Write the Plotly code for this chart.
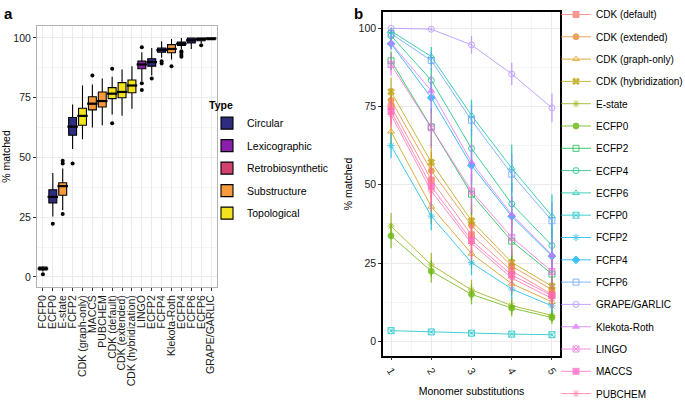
import math
import plotly.graph_objects as go

# ---------------- Panel a data ----------------
categories = ["FCFP0", "ECFP0", "E-state", "FCFP2", "CDK (graph-only)", "MACCS", "PUBCHEM",
              "CDK (default)", "CDK (extended)", "CDK (hybridization)", "LINGO", "ECFP2", "FCFP4",
              "Klekota-Roth", "ECFP4", "FCFP6", "ECFP6", "GRAPE/GARLIC"]
cat_types = ["Circular", "Circular", "Substructure", "Circular", "Topological", "Substructure",
             "Substructure", "Topological", "Topological", "Topological", "Lexicographic", "Circular",
             "Circular", "Substructure", "Circular", "Circular", "Circular", "Retrobiosynthetic"]
box_lower = [2.3, 25.3, 28.0, 53.5, 57.6, 62.5, 63.5, 68.0, 67.4, 70.4, 82.0, 84.3, 91.7, 91.0, 95.4, 95.4, 97.9, 99.0]
box_q1 = [2.9, 31.0, 34.2, 59.3, 63.5, 69.9, 71.1, 74.6, 75.0, 77.1, 87.1, 88.2, 94.0, 93.8, 96.9, 97.9, 98.8, 99.3]
box_median = [3.5, 33.5, 38.0, 62.9, 67.4, 72.5, 73.6, 76.7, 77.4, 80.1, 88.9, 89.9, 94.9, 95.4, 97.6, 99.0, 99.6, 99.8]
box_q3 = [4.1, 36.5, 39.4, 66.7, 70.6, 75.4, 77.4, 79.2, 81.3, 82.4, 90.3, 91.3, 95.8, 97.2, 98.3, 100.0, 100.0, 100.0]
box_upper = [4.5, 43.5, 45.4, 72.2, 80.1, 80.5, 83.0, 83.8, 86.8, 88.2, 94.0, 95.8, 98.6, 99.6, 100.0, 100.0, 100.0, 100.0]
outlier_cats = ["FCFP0", "ECFP0", "E-state", "E-state", "E-state", "FCFP2", "MACCS", "CDK (default)",
                "CDK (default)", "LINGO", "LINGO", "LINGO", "ECFP2", "FCFP4", "FCFP4", "Klekota-Roth",
                "ECFP4", "ECFP4", "ECFP4", "ECFP4", "ECFP6"]
outlier_vals = [1.1, 22.3, 48.6, 47.5, 26.3, 47.5, 84.3, 87.1, 64.3, 96.1, 81.0, 78.2, 83.0, 90.3, 89.3,
                88.2, 94.4, 93.8, 92.9, 92.1, 96.9]
type_names = ["Circular", "Lexicographic", "Retrobiosynthetic", "Substructure", "Topological"]
type_colors = ["#2E2C7E", "#8A1FAB", "#D3426E", "#F59B3C", "#F3E31E"]

# ---------------- Panel b data ----------------
substitutions = [1, 2, 3, 4, 5]
series_names = ["CDK (default)", "CDK (extended)", "CDK (graph-only)", "CDK (hybridization)", "E-state",
                "ECFP0", "ECFP2", "ECFP4", "ECFP6", "FCFP0", "FCFP2", "FCFP4", "FCFP6", "GRAPE/GARLIC",
                "Klekota-Roth", "LINGO", "MACCS", "PUBCHEM"]
cdk_default = [75.0, 51.5, 34.0, 22.5, 15.0]
cdk_extended = [77.0, 54.5, 37.0, 24.0, 16.5]
cdk_graph_only = [67.0, 43.0, 28.0, 18.4, 12.6]
cdk_hybridization = [79.7, 57.2, 38.5, 25.2, 17.6]
e_state = [36.8, 24.4, 16.4, 11.4, 8.3]
ecfp0 = [33.7, 22.4, 15.0, 10.6, 7.6]
ecfp2 = [89.6, 68.5, 47.0, 32.0, 21.5]
ecfp4 = [97.6, 83.4, 61.6, 43.9, 30.6]
ecfp6 = [99.1, 91.0, 72.2, 55.3, 40.0]
fcfp0 = [3.4, 3.0, 2.6, 2.3, 2.1]
fcfp2 = [62.5, 40.0, 25.1, 16.7, 11.3]
fcfp4 = [95.1, 77.8, 56.2, 39.9, 27.2]
fcfp6 = [98.3, 89.7, 70.6, 53.4, 38.5]
grape_garlic = [100.0, 99.7, 94.7, 85.4, 74.6]
klekota_roth = [95.3, 80.0, 57.2, 40.5, 27.6]
lingo = [88.4, 68.2, 48.0, 33.2, 22.3]
maccs = [73.5, 49.5, 32.2, 21.2, 14.6]
pubchem = [72.4, 48.0, 31.3, 20.2, 13.7]
series_values = [cdk_default, cdk_extended, cdk_graph_only, cdk_hybridization, e_state, ecfp0, ecfp2,
                 ecfp4, ecfp6, fcfp0, fcfp2, fcfp4, fcfp6, grape_garlic, klekota_roth, lingo, maccs, pubchem]
series_errors = [
    [4.0, 6.0, 5.5, 4.5, 3.5], [4.0, 6.0, 5.5, 4.5, 3.5], [4.0, 5.5, 4.5, 3.5, 2.8],
    [4.5, 6.0, 5.5, 4.5, 3.5], [4.2, 3.8, 3.3, 2.6, 2.1], [4.0, 3.6, 3.2, 2.6, 2.1],
    [3.0, 6.0, 6.5, 6.0, 5.0], [1.5, 4.0, 6.0, 7.0, 6.5], [1.0, 3.0, 5.0, 7.5, 7.0],
    [0.4, 0.3, 0.3, 0.3, 0.3], [4.0, 4.5, 4.0, 3.2, 2.6], [2.0, 5.0, 6.0, 6.5, 5.5],
    [1.2, 3.0, 5.0, 6.5, 6.0], [0.3, 0.5, 2.8, 3.6, 4.6], [2.0, 5.0, 6.0, 6.0, 5.0],
    [3.5, 6.5, 7.0, 6.0, 5.0], [4.0, 6.0, 5.5, 4.5, 3.5], [4.0, 6.5, 5.5, 4.5, 3.5]]
series_symbols = ["square", "circle", "triangle-up-open", "x", "asterisk-open", "circle", "square-open",
                  "circle-open", "triangle-up-open", "square-x-open", "asterisk-open", "diamond",
                  "square-open", "circle-open", "triangle-up", "square-x-open", "square", "asterisk-open"]


def hcl_hex(h, c=100.0, l=65.0):
    hr = math.radians(h)
    u, v = c * math.cos(hr), c * math.sin(hr)
    xn, yn, zn = 95.047, 100.0, 108.883
    un = 4 * xn / (xn + 15 * yn + 3 * zn)
    vn = 9 * yn / (xn + 15 * yn + 3 * zn)
    Y = yn * ((l + 16) / 116) ** 3
    up = u / (13 * l) + un
    vp = v / (13 * l) + vn
    X = 9.0 * Y * up / (4 * vp)
    Z = -X / 3 - 5 * Y + 3 * Y / vp
    X, Y, Z = X / 100, Y / 100, Z / 100
    r = 3.240479 * X - 1.537150 * Y - 0.498535 * Z
    g = -0.969256 * X + 1.875992 * Y + 0.041556 * Z
    b = 0.055648 * X - 0.204043 * Y + 1.057311 * Z

    def gam(t):
        t = 12.92 * t if t <= 0.0031308 else 1.055 * t ** (1 / 2.4) - 0.055
        return max(0, min(255, round(t * 255)))
    return "#%02X%02X%02X" % (gam(r), gam(g), gam(b))


series_colors = [hcl_hex(15 + 20 * i) for i in range(len(series_names))]

FONT = "Liberation Sans, Arial, sans-serif"
fig = go.Figure()

# Panel a boxes
for tname, tcol in zip(type_names, type_colors):
    idx = [i for i, t in enumerate(cat_types) if t == tname]
    fig.add_trace(go.Box(
        x=[categories[i] for i in idx],
        q1=[box_q1[i] for i in idx], median=[box_median[i] for i in idx],
        q3=[box_q3[i] for i in idx], lowerfence=[box_lower[i] for i in idx],
        upperfence=[box_upper[i] for i in idx],
        name=tname, fillcolor=tcol, line=dict(color="black", width=1.1),
        whiskerwidth=0, width=0.8, boxpoints=False, xaxis="x", yaxis="y",
        legend="legend", legendgroup=tname, hoverinfo="skip"))
# thicker median bars (ggplot style)
fig.add_trace(go.Scatter(x=categories, y=box_median, mode="markers",
                         marker=dict(symbol="line-ew", size=7.5, color="black",
                                     line=dict(color="black", width=2.2)),
                         showlegend=False, xaxis="x", yaxis="y", hoverinfo="skip"))
fig.add_trace(go.Scatter(x=outlier_cats, y=outlier_vals, mode="markers",
                         marker=dict(color="black", size=4), showlegend=False,
                         xaxis="x", yaxis="y", hoverinfo="skip"))

# Panel b lines
for name, vals, errs, sym, col in zip(series_names, series_values, series_errors, series_symbols, series_colors):
    fig.add_trace(go.Scatter(
        x=substitutions, y=vals, name=name, mode="lines+markers",
        line=dict(color=col, width=1.0),
        marker=dict(symbol=sym, size=6, color=col, line=dict(color=col, width=1)),
        error_y=dict(type="data", array=errs, visible=True, color=col, thickness=1.3, width=0),
        opacity=0.75, xaxis="x2", yaxis="y2", legend="legend2", legendgroup=name))

grid = "#EBEBEB"
minor_grid = "#F5F5F5"
tick_font = dict(size=10.5, color="#1a1a1a")
fig.update_layout(
    width=685, height=405, margin=dict(l=0, r=0, t=0, b=0, autoexpand=False),
    paper_bgcolor="white", plot_bgcolor="white",
    font=dict(family=FONT, size=10, color="black"),
    boxmode="overlay", showlegend=True,
    xaxis=dict(domain=[37 / 685, 217 / 685], type="category", categoryorder="array",
               categoryarray=categories, tickmode="array", tickvals=categories, ticktext=categories,
               range=[-0.6, 17.6], tickangle=-90, automargin=False,
               showgrid=True, gridcolor=grid, gridwidth=1,
               showline=True, mirror=True, linecolor="#B3B3B3", linewidth=1,
               ticks="outside", ticklen=3, tickcolor="#333333",
               tickfont=dict(size=10.5, color="#1a1a1a"), zeroline=False, anchor="y"),
    yaxis=dict(domain=[1 - 287 / 405, 1 - 26 / 405], range=[-4.2, 105], automargin=False,
               tickvals=[0, 25, 50, 75, 100], showgrid=True, gridcolor=grid,
               minor=dict(tickvals=[12.5, 37.5, 62.5, 87.5], showgrid=True, gridcolor=minor_grid),
               showline=True, mirror=True, linecolor="#B3B3B3", linewidth=1,
               ticks="outside", ticklen=3, tickcolor="#333333", zeroline=False,
               tickfont=tick_font, anchor="x",
               title=dict(text="% matched", font=dict(size=10.5), standoff=14)),
    xaxis2=dict(domain=[383 / 685, 560 / 685], range=[0.8, 5.2], tickvals=substitutions,
                tickangle=60, showgrid=True, gridcolor=grid, automargin=False,
                minor=dict(tickvals=[1.5, 2.5, 3.5, 4.5], showgrid=True, gridcolor=minor_grid),
                showline=True, mirror=True, linecolor="black", linewidth=1.5,
                ticks="outside", ticklen=3, tickcolor="#333333", zeroline=False,
                tickfont=tick_font, anchor="y2",
                title=dict(text="Monomer substitutions", font=dict(size=10.5), standoff=12)),
    yaxis2=dict(domain=[1 - 355.7 / 405, 1 - 12.3 / 405], range=[-4.6, 105.1], automargin=False,
                tickvals=[0, 25, 50, 75, 100], showgrid=True, gridcolor=grid,
                minor=dict(tickvals=[12.5, 37.5, 62.5, 87.5], showgrid=True, gridcolor=minor_grid),
                showline=True, mirror=True, linecolor="black", linewidth=1.5,
                ticks="outside", ticklen=3, tickcolor="#333333", zeroline=False,
                tickfont=tick_font, anchor="x2",
                title=dict(text="% matched", font=dict(size=10.5), standoff=4)),
    legend=dict(x=207 / 685, y=1 - 95 / 405, xanchor="left", yanchor="top",
                title=dict(text="<b>Type</b>", font=dict(size=10.5)),
                font=dict(size=10.5), bgcolor="rgba(0,0,0,0)", tracegroupgap=3.5,
                itemwidth=30),
    legend2=dict(x=556 / 685, y=1, xanchor="left", yanchor="top",
                 font=dict(size=10), bgcolor="rgba(0,0,0,0)", tracegroupgap=3.3,
                 itemwidth=30, maxheight=520),
    annotations=[
        dict(text="<b>a</b>", x=2 / 685, y=1 - 3 / 405, xref="paper", yref="paper",
             xanchor="left", yanchor="top", showarrow=False, font=dict(size=15)),
        dict(text="<b>b</b>", x=352 / 685, y=1 - 3 / 405, xref="paper", yref="paper",
             xanchor="left", yanchor="top", showarrow=False, font=dict(size=15)),
    ],
)

fig.write_html("out.html", config={"displayModeBar": False},
               post_script="document.body.style.margin='0';")
